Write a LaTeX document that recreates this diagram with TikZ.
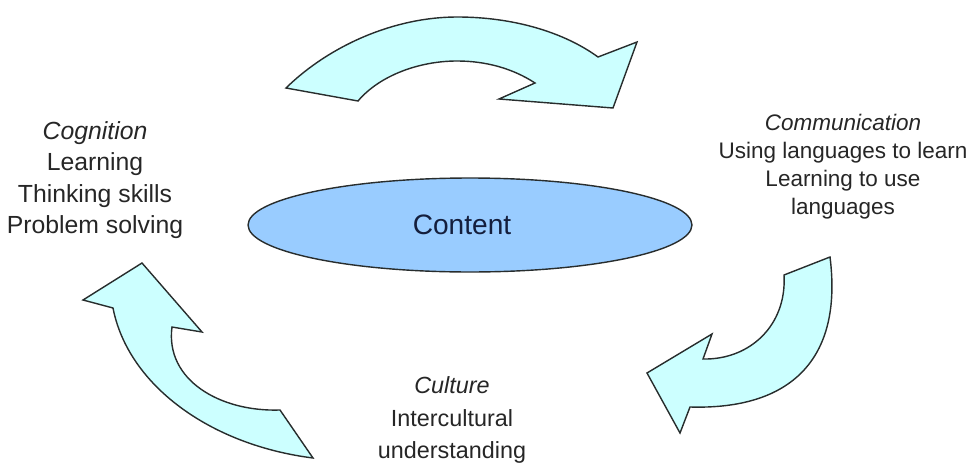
\documentclass[tikz,border=0pt]{standalone}
\usepackage{fontspec}
\setmainfont{Liberation Sans}
\usetikzlibrary{shapes.geometric}
\definecolor{arrowfill}{RGB}{204,255,255}
\definecolor{contentfill}{RGB}{153,204,255}
\definecolor{outline}{RGB}{40,45,45}
\definecolor{contenttext}{RGB}{20,30,60}
\begin{document}
\begin{tikzpicture}[x=0.02cm,y=-0.02cm,
  arrowshape/.style={fill=arrowfill,draw=outline,line width=0.8pt,line join=miter},
  textblock/.style={align=center,text=black!85,inner sep=0pt}]

  \useasboundingbox (0,0) rectangle (972,466);

  \node[ellipse,draw=outline,line width=0.8pt,fill=contentfill,minimum width=8.88cm,minimum height=1.88cm,inner sep=0pt,
    text=contenttext,font=\fontsize{16}{19}\selectfont] at (470,225) (content) {Content\kern0.32cm};

  \node[textblock,font=\fontsize{14.1}{17.8}\selectfont] at (95,180) (cognition) {\textit{Cognition}\\Learning\\Thinking skills\\Problem solving};
  \node[textblock,font=\fontsize{12.8}{16}\selectfont] at (843,167) (communication) {\textit{Communication}\\Using languages to learn\\Learning to use\\languages};
  \node[textblock,font=\fontsize{13.3}{18.5}\selectfont] at (452,420) (culture) {\textit{Culture}\\Intercultural\\understanding};

  \draw[arrowshape] (286,88) .. controls (330,45) and (395,17) .. (457,17) .. controls (515,17) and (565,33) .. (598,57)
    -- (637,42) -- (613,108) -- (499,99) -- (535,83)
    .. controls (512,68) and (485,61) .. (457,61) .. controls (420,61) and (380,75) .. (358,101) -- cycle;

  \draw[arrowshape] (830,257) .. controls (843,360) and (790,410) .. (690,407)
    -- (680,433) -- (647,373) -- (712,334) -- (703,359)
    .. controls (750,360) and (787,325) .. (784,275) -- cycle;

  \draw[arrowshape] (313,458) .. controls (210,445) and (128,385) .. (113,308)
    -- (83,300) -- (142,263) -- (202,332) -- (172,327)
    .. controls (165,380) and (220,412) .. (280,410) -- cycle;
\end{tikzpicture}
\end{document}
